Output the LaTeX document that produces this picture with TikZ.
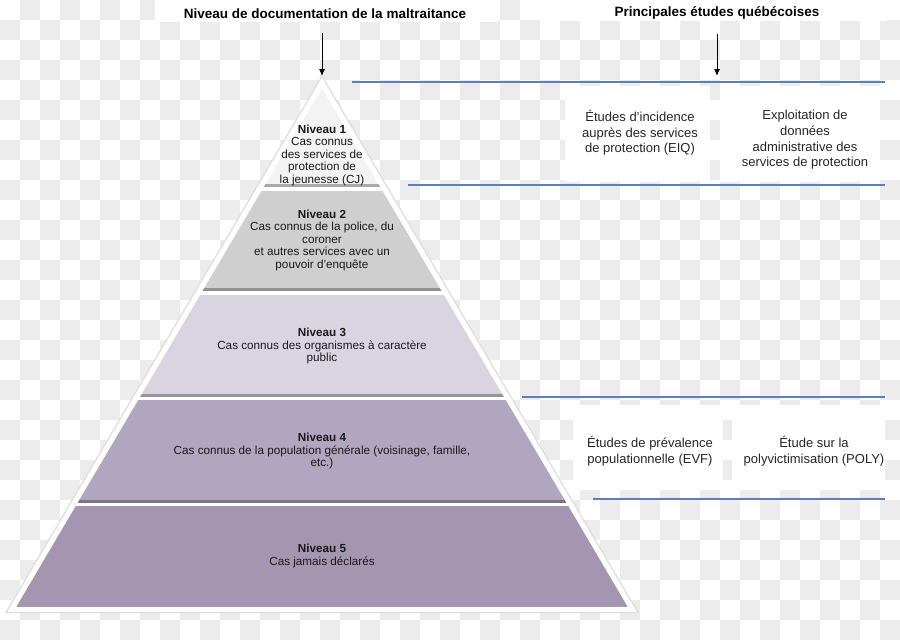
\documentclass[tikz,border=0pt]{standalone}
\usepackage{fontspec}
\setmainfont{Liberation Sans}
\usetikzlibrary{arrows.meta}
\definecolor{ruleblue}{RGB}{91,128,190}
\definecolor{chk}{RGB}{236,236,236}
\definecolor{lvA}{RGB}{243,243,243}
\definecolor{lvB}{RGB}{207,207,207}
\definecolor{lvC}{RGB}{218,212,224}
\definecolor{lvD}{RGB}{177,166,192}
\definecolor{lvE}{RGB}{164,150,177}

\begin{document}
\begin{tikzpicture}[
  x=1pt, y=-1pt,
  ttl/.style   = {font=\fontsize{13.5}{16}\selectfont\bfseries, text=black},
  lvl/.style   = {align=center, font=\fontsize{11.7}{12.5}\selectfont, text=black!90},
  etude/.style = {align=center, font=\fontsize{13}{15.7}\selectfont, text=black!85},
  rule/.style  = {draw=ruleblue, line width=1.2pt},
  arr/.style   = {-{Latex[length=7pt,width=6pt]}, line width=1pt}
]
%% Canvas
\useasboundingbox (0,0) rectangle (900,640);
\fill[white] (0,0) rectangle (900,640);
\begin{scope}
  \clip (0,0) rectangle (900,640);
  \foreach \j in {0,...,31}{
    \pgfmathtruncatemacro{\xs}{20*mod(\j+1,2)}
    \foreach \i in {0,...,22}
      \fill[chk] (\xs+40*\i,20*\j) rectangle ++(20,20);}
\end{scope}
%% Headers
\fill[white] (155,0) rectangle (498,22);
\fill[white] (540,0) rectangle (887,21);
\node[ttl] (doc) at (325,14) {Niveau de documentation de la maltraitance};
\node[ttl] (etu) at (717,13) {Principales études québécoises};
%% Pyramid
\coordinate (apex) at (322,83);
\coordinate (bl) at (12,609);
\coordinate (br) at (632,609);
\draw[black!13, line width=8pt] (apex)--(bl)--(br)--cycle;
\filldraw[white, line width=5pt] (apex)--(bl)--(br)--cycle;
\begin{scope}
  \clip (apex)--(bl)--(br)--cycle;
  \foreach \yt/\yb/\cl in {70/187/lvA,191/291/lvB,295/397/lvC,400/503/lvD,506/609/lvE}{
    \fill[\cl] (0,\yt) rectangle (900,\yb);
    \fill[\cl!70!black] (0,\yb-3) rectangle (900,\yb);}
\end{scope}
\draw[white, line width=5pt] (apex)--(bl)--(br)--cycle;
%% Levels
\node[lvl] (n1) at (322,155) {\textbf{Niveau 1}\\Cas connus\\des services de\\protection de\\la jeunesse (CJ)};
\node[lvl] (n2) at (322,240) {\textbf{Niveau 2}\\Cas connus de la police, du\\coroner\\et autres services avec un\\pouvoir d'enquête};
\node[lvl] (n3) at (322,346) {\textbf{Niveau 3}\\Cas connus des organismes à caractère\\public};
\node[lvl] (n4) at (322,451) {\textbf{Niveau 4}\\Cas connus de la population générale (voisinage, famille,\\etc.)};
\node[lvl] (n5) at (322,556) {\textbf{Niveau 5}\\Cas jamais déclarés};
%% Studies
\fill[white] (565,86) rectangle (710,182);
\fill[white] (720,86) rectangle (880,182);
\fill[white] (573,405) rectangle (723,490);
\fill[white] (732,405) rectangle (885,490);
\node[etude] (eiq)  at (640,133) {Études d’incidence\\auprès des services\\de protection (EIQ)};
\node[etude] (adm)  at (805,140) {Exploitation de\\données\\administrative des\\services de protection};
\node[etude] (evf)  at (650,451) {Études de prévalence\\populationnelle (EVF)};
\node[etude] (poly) at (814,451) {Étude sur la\\polyvictimisation (POLY)};
%% Separators
\coordinate (topL) at (352,82);
\draw[rule] (topL) -- (885,82);
\draw[rule] (408,185) -- (885,185);
\draw[rule] (522,397) -- (885,397);
\draw[rule] (593,499) -- (885,499);
%% Arrows
\draw[arr, shorten <=11pt, shorten >=7pt] (doc.south -| apex) -- (apex);
\draw[arr, shorten <=11pt, shorten >=6pt] (etu.south) -- (etu.south |- topL);
\end{tikzpicture}
\end{document}
